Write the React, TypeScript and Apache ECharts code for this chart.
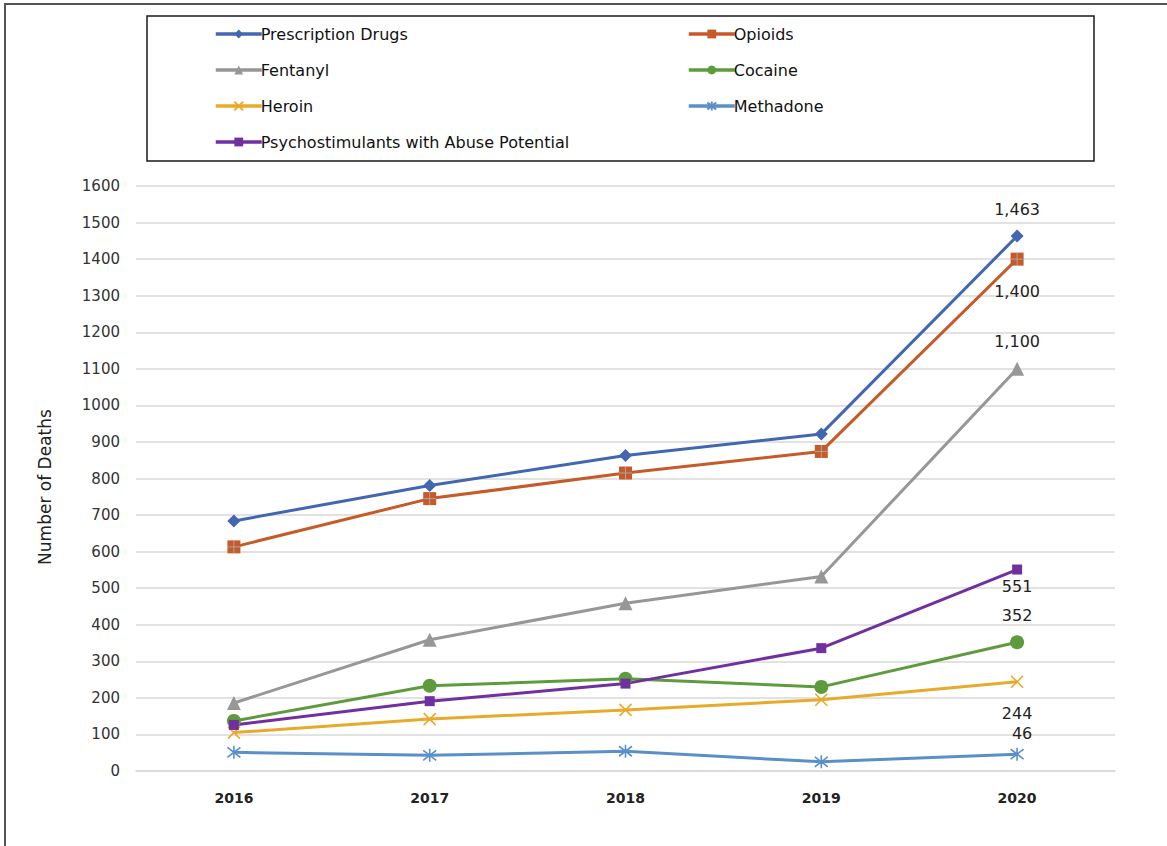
import React, { useEffect, useRef } from "react";
import * as echarts from "echarts";

// Annual overdose deaths by drug category
const years = ["2016", "2017", "2018", "2019", "2020"];
const prescriptionDrugs = [684, 781, 863, 922, 1463];
const opioids = [613, 745, 815, 874, 1400];
const fentanyl = [186, 359, 459, 532, 1100];
const cocaine = [137, 233, 252, 230, 352];
const heroin = [105, 142, 167, 195, 244];
const methadone = [51, 43, 54, 25, 46];
const psychostimulants = [126, 191, 239, 336, 551];

const yTicks = { min: 0, max: 1600, interval: 100 };

const FONT = "DejaVu Sans";

const xSym = "path://M0,0L10,10M10,0L0,10";
const starSym = "path://M0,0L10,10M10,0L0,10M5,-1.5L5,11.5";
const plusSym = "path://M5,0L5,10M0,5L10,5";

type SeriesDef = {
  name: string;
  values: number[];
  color: string;
  symbol: string;
  symbolSize: number;
  stroke?: boolean;
  labelPos: "top" | "bottom";
  labelDist: number;
  labelOffset?: [number, number];
};

const seriesDefs: SeriesDef[] = [
  { name: "Prescription Drugs", values: prescriptionDrugs, color: "#4267B0", symbol: "diamond", symbolSize: 13, labelPos: "top", labelDist: 12 },
  { name: "Opioids", values: opioids, color: "#C65A28", symbol: "rect", symbolSize: 13, labelPos: "bottom", labelDist: 18 },
  { name: "Fentanyl", values: fentanyl, color: "#979797", symbol: "triangle", symbolSize: 14, labelPos: "top", labelDist: 12 },
  { name: "Cocaine", values: cocaine, color: "#5E9B3C", symbol: "circle", symbolSize: 14, labelPos: "top", labelDist: 12 },
  { name: "Heroin", values: heroin, color: "#E8AA2A", symbol: xSym, symbolSize: 12, stroke: true, labelPos: "bottom", labelDist: 17 },
  { name: "Methadone", values: methadone, color: "#5B8FC9", symbol: starSym, symbolSize: 13, stroke: true, labelPos: "top", labelDist: 5, labelOffset: [5, 0] },
  { name: "Psychostimulants with Abuse Potential", values: psychostimulants, color: "#7030A0", symbol: "rect", symbolSize: 10, labelPos: "bottom", labelDist: 4 },
];

const leftLegend = ["Prescription Drugs", "Fentanyl", "Heroin", "Psychostimulants with Abuse Potential"];
const rightLegend = ["Opioids", "Cocaine", "Methadone"];

export default function App() {
  const ref = useRef<HTMLDivElement>(null);

  useEffect(() => {
    if (!ref.current) return;
    const chart = echarts.init(ref.current, null, { renderer: "svg" });

    const lastIdx = years.length - 1;
    const series: any[] = seriesDefs.map((d) => ({
      name: d.name,
      type: "line",
      data: d.values.map((v, i) =>
        i === lastIdx
          ? {
              value: v,
              label: {
                show: true,
                position: d.labelPos,
                distance: d.labelDist,
                offset: d.labelOffset || [0, 0],
                formatter: (p: any) => Number(p.value).toLocaleString("en-US"),
                fontFamily: FONT,
                fontSize: 16,
                color: "#222222",
              },
            }
          : v
      ),
      symbol: d.symbol,
      symbolSize: d.symbolSize,
      showAllSymbol: true,
      lineStyle: { color: d.color, width: 3 },
      itemStyle: d.stroke
        ? { color: "rgba(0,0,0,0)", borderColor: d.color, borderWidth: 1.6 }
        : { color: d.color, borderWidth: 0 },
      emphasis: { disabled: true },
      z: 2,
    }));

    // light cross drawn over the opioid square markers
    series.push({
      name: "Opioids",
      type: "scatter",
      data: opioids,
      symbol: plusSym,
      symbolSize: 13,
      itemStyle: { color: "rgba(0,0,0,0)", borderColor: "#A9B4C6", borderWidth: 1 },
      emphasis: { disabled: true },
      z: 5,
      silent: true,
    });

    const legendCommon = {
      orient: "vertical",
      top: 21,
      itemWidth: 46,
      itemHeight: 11,
      itemGap: 20,
      lineStyle: { width: 3.5 },
      textStyle: { fontFamily: FONT, fontSize: 16, color: "#111111", lineHeight: 16, padding: [0, 0, 0, -6] },
      selectedMode: false,
    };

    chart.setOption({
      animation: false,
      backgroundColor: "#ffffff",
      grid: { left: 136, right: 52, top: 186, bottom: 75 },
      legend: [
        { ...legendCommon, left: 209, data: leftLegend },
        { ...legendCommon, left: 682, data: rightLegend },
      ],
      xAxis: {
        type: "category",
        data: years,
        boundaryGap: true,
        axisTick: { show: false },
        axisLine: { lineStyle: { color: "#D9D9D9", width: 1.5 } },
        axisLabel: { fontFamily: FONT, fontSize: 14, fontWeight: "bold", color: "#222222", margin: 20 },
      },
      yAxis: {
        type: "value",
        min: yTicks.min,
        max: yTicks.max,
        interval: yTicks.interval,
        axisLine: { show: false },
        axisTick: { show: false },
        splitLine: { lineStyle: { color: "#D9D9D9", width: 1.5 } },
        axisLabel: {
          fontFamily: FONT,
          fontSize: 15,
          color: "#333333",
          margin: 16,
          formatter: (v: number) => String(v),
        },
      },
      graphic: [
        { type: "line", shape: { x1: 4, y1: 4, x2: 1167, y2: 4 }, style: { stroke: "#555555", lineWidth: 2 }, silent: true },
        { type: "line", shape: { x1: 5, y1: 4, x2: 5, y2: 846 }, style: { stroke: "#555555", lineWidth: 2 }, silent: true },
        { type: "rect", shape: { x: 147, y: 16, width: 947, height: 145 }, style: { fill: "none", stroke: "#1A1A1A", lineWidth: 1.5 }, silent: true, z: -1 },
        {
          type: "text",
          x: 45,
          y: 487,
          rotation: Math.PI / 2,
          style: {
            text: "Number of Deaths",
            fontFamily: FONT,
            fontSize: 17,
            fill: "#222222",
            textAlign: "center",
            textVerticalAlign: "middle",
          },
          silent: true,
        },
      ],
      series,
    });

    return () => chart.dispose();
  }, []);

  return (
    <div
      ref={ref}
      style={{ position: "fixed", left: 0, top: 0, width: 1167, height: 846, background: "#fff" }}
    />
  );
}
